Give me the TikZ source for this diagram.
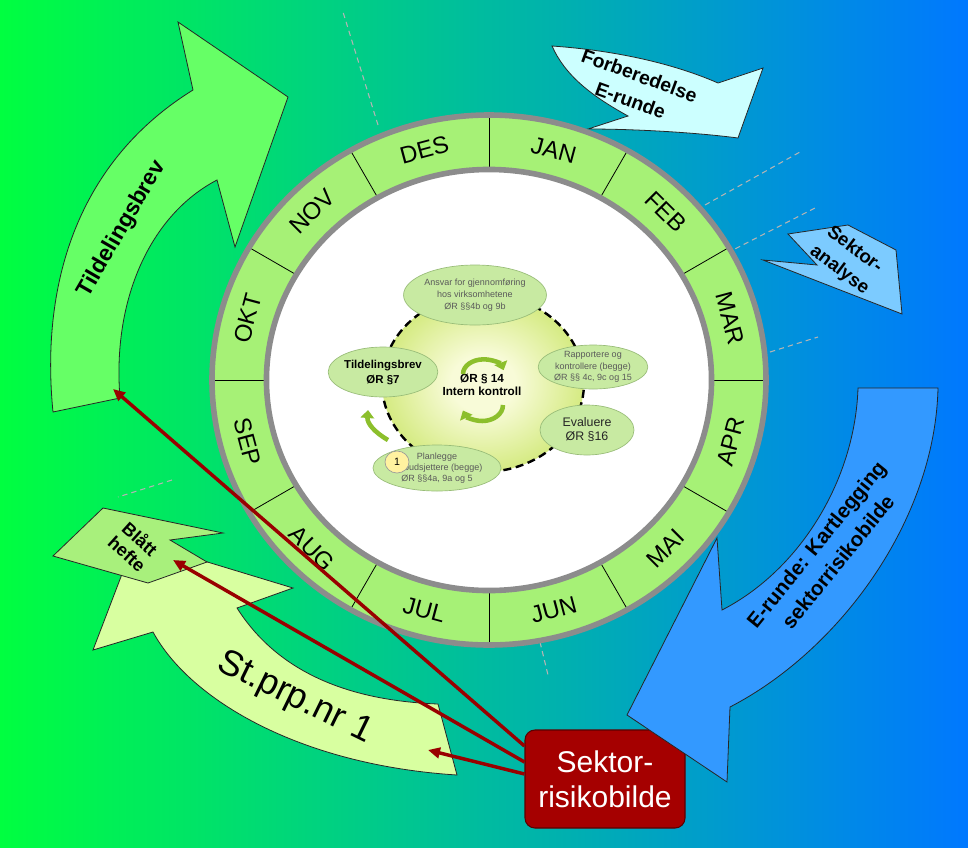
\documentclass[tikz,border=0pt]{standalone}
\usepackage{fontspec}
\setmainfont{Liberation Sans}
\usetikzlibrary{shapes.geometric,arrows.meta,calc}
\definecolor{bgleft}{HTML}{00FF40}
\definecolor{bgright}{HTML}{0078FF}
\definecolor{ringgreen}{HTML}{A6F176}
\definecolor{ringgray}{HTML}{8C8C8C}
\definecolor{tildegreen}{HTML}{66FF66}
\definecolor{stprp}{HTML}{D8FFA0}
\definecolor{blatt}{HTML}{A8F07C}
\definecolor{forb}{HTML}{CCFFFF}
\definecolor{sektan}{HTML}{7CCBFF}
\definecolor{erunde}{HTML}{3399FF}
\definecolor{boxred}{HTML}{A50000}
\definecolor{boxedge}{HTML}{5A0000}
\definecolor{arrowred}{HTML}{990000}
\definecolor{ellfill}{HTML}{C8EAA2}
\definecolor{ellborder}{HTML}{98BC78}
\definecolor{ctrin}{HTML}{F8FBD8}
\definecolor{ctrout}{HTML}{BEE04A}
\definecolor{cycgreen}{HTML}{8CBF2C}
\definecolor{dashgray}{HTML}{B4B4B4}
\definecolor{txtgray}{HTML}{5A5A5A}
\definecolor{onefill}{HTML}{FFF2A0}
\pgfdeclareradialshading{ctrshade}{\pgfpoint{0bp}{0bp}}{color(0bp)=(ctrin);color(8bp)=(ctrin);color(36bp)=(ctrout);color(50bp)=(ctrout)}
\newcommand{\myfs}[2]{\fontsize{#1}{#2}\selectfont}
\begin{document}
\begin{tikzpicture}[x=0.75pt,y=-0.75pt,
  outl/.style={draw=black!85, line width=0.6pt, line join=miter},
  lbl/.style={inner sep=0pt, align=center},
  dashline/.style={draw=dashgray, line width=0.8pt, dash pattern=on 4pt off 3pt},
  month/.style={inner sep=0pt, font=\myfs{18}{18}},
  ell/.style={ellipse, draw=ellborder, fill=ellfill, line width=0.5pt, inner sep=0pt, align=center},
  cyc/.style={draw=cycgreen, line width=3.4pt, -{Triangle[length=6pt,width=10pt]}},
  redarrow/.style={draw=arrowred, line width=2.6pt, -{Triangle[length=9pt,width=8pt]}}]
\useasboundingbox (0,0) rectangle (968,847);
\shade[left color=bgleft, right color=bgright] (0,0) rectangle (968,847);

% faint dashed radial lines
\draw[dashline] (378,125) -- (343,12);
\draw[dashline] (705,205) -- (800,152);
\draw[dashline] (727,253) -- (815,208);
\draw[dashline] (770,352) -- (818,337);
\draw[dashline] (172,480) -- (118,497);
\draw[dashline] (540,642) -- (548,675);

% Tildelingsbrev arrow
\draw[outl, fill=tildegreen] (53,412) .. controls (40,280) and (80,160) .. (193,90) -- (178,22) -- (288,97) -- (235,247) -- (217,180) .. controls (150,215) and (112,300) .. (120,398) -- cycle;
\node[lbl, rotate=60, font=\bfseries\myfs{17}{20}] (tbtext) at (122,229) {Tildelingsbrev};

% St.prp arrow
\draw[outl, fill=stprp] (135,540) -- (93,650) -- (153,632) .. controls (190,700) and (300,765) .. (457,775) -- (438,704) .. controls (330,700) and (270,660) .. (237,608) -- (293,588) -- cycle;
\node[lbl, rotate=-26, font=\myfs{27}{30}] (sptext) at (295,698) {St.prp.nr 1};

% Blatt hefte
\draw[outl, fill=blatt] (103,508) -- (223,533) -- (170,540) -- (207,562) -- (148,583) -- (53,556) -- cycle;
\node[lbl, rotate=-42, font=\bfseries\myfs{13.5}{14.5}] (bhtext) at (134,546) {Blått\\hefte};

% Forberedelse
\draw[outl, fill=forb] (552,46) .. controls (610,50) and (670,62) .. (718,83) -- (763,68) -- (738,138) .. controls (700,133) and (640,129) .. (588,129) -- (628,116) .. controls (590,95) and (565,75) .. (552,46) -- cycle;
\node[lbl, rotate=-20, font=\bfseries\myfs{14.5}{20}] (fbtext) at (635,88) {Forberedelse\\E-runde};

% Sektor-analyse
\draw[outl, fill=sektan] (788,234) -- (848,225) -- (896,250) -- (902,314) -- (763,260) -- (817,265) -- cycle;
\node[lbl, rotate=-37, font=\bfseries\myfs{14}{19}] (satext) at (847,260) {Sektor-\\analyse};

% Sektor-risikobilde box
\node[draw=boxedge, line width=0.8pt, fill=boxred, rounded corners=7.5pt, minimum width=120pt, minimum height=73.5pt, text=white, align=center, font=\myfs{22.5}{26}] (box) at (605,779) {Sektor-\\risikobilde};

% E-runde arrow
\draw[outl, fill=erunde] (858,388) -- (938,388) .. controls (935,520) and (840,650) .. (730,707) -- (727,782) -- (627,715) -- (717,538) -- (722,610) .. controls (800,570) and (855,480) .. (858,388) -- cycle;
\node[lbl, rotate=51, font=\bfseries\myfs{15.5}{21}] (ertext) at (827,553) {E-runde: Kartlegging\\sektorrisikobilde};

% month ring
\fill[ringgreen] (489,380) ellipse [x radius=207.75pt, y radius=198.75pt];
\foreach \a in {0,30,...,330}
  \draw[black, line width=0.6pt] ({489+222.5*cos(\a)},{380-210.5*sin(\a)}) -- ({489+277*cos(\a)},{380-265*sin(\a)});
\fill[white] (489,380) ellipse [x radius=166.9pt, y radius=157.9pt];
\draw[ringgray, line width=4.2pt] (489,380) ellipse [x radius=207.75pt, y radius=198.75pt];
\draw[ringgray, line width=4.2pt] (489,380) ellipse [x radius=166.9pt, y radius=157.9pt];
\foreach \m/\a/\r in {JAN/75/-15,FEB/45/-45,MAR/15/-75,APR/-15/75,MAI/-45/45,JUN/-75/15,JUL/-105/-15,AUG/-135/-45,SEP/-165/-75,OKT/165/75,NOV/135/45,DES/105/15}
  \node[month, rotate=\r] (m\m) at ({489+250*cos(\a)},{380-238*sin(\a)}) {\m};

% centre cycle
\shade[shading=ctrshade] (483,383) ellipse [x radius=75.75pt, y radius=66.75pt];
\draw[black, line width=1.8pt, dash pattern=on 6pt off 3.5pt] (483,383) ellipse [x radius=75.75pt, y radius=66.75pt];
\node[lbl, font=\bfseries\myfs{8.8}{9.5}] (ctr) at (482,385) {ØR § 14\\Intern kontroll};
\draw[cyc] (463,374) arc[start angle=180, end angle=15, x radius=15.5pt, y radius=11pt];
\draw[cyc] (503,405) arc[start angle=0, end angle=-160, x radius=15.5pt, y radius=12pt];
\draw[cyc] (388,440) .. controls (374,432) and (367,423) .. (368,410);

\node[ell, minimum width=82.5pt, minimum height=45pt, text=txtgray, font=\myfs{6.75}{8.75}] (ansvar) at (475,295) {Ansvar for gjennomføring\\hos virksomhetene\\ØR §§4b og 9b};
\node[ell, minimum width=70.5pt, minimum height=37.5pt, font=\bfseries\myfs{8.6}{11.25}] (tildel) at (383,372) {Tildelingsbrev\\ØR §7};
\node[ell, minimum width=69pt, minimum height=33pt, text=txtgray, font=\myfs{6.75}{8.5}] (rapp) at (593,367) {Rapportere og\\kontrollere (begge)\\ØR §§ 4c, 9c og 15};
\node[ell, minimum width=70.5pt, minimum height=37.5pt, text=black!85, font=\myfs{9.3}{10.5}] (eval) at (587,430) {Evaluere\\ØR §16};
\node[ell, minimum width=70.5pt, minimum height=34.5pt, text=txtgray, font=\myfs{6.75}{8.25}] (plan) at (437,468) {Planlegge\\og budsjettere (begge)\\ØR §§4a, 9a og 5};
\node[ellipse, draw=black!40, fill=onefill, line width=0.5pt, inner sep=0pt, minimum width=18pt, minimum height=16.5pt, font=\myfs{8}{8}] (one) at (397,462) {1};

% red connectors
\coordinate (t1) at (113,389);
\coordinate (t2) at (173,560);
\coordinate (t3) at (428,750);
\draw[redarrow] ($(box.west)+(0,-33)$) -- (t1);
\draw[redarrow] ($(box.west)+(0,-17)$) -- (t2);
\draw[redarrow] ($(box.west)+(0,-5)$) -- (t3);
\end{tikzpicture}
\end{document}
